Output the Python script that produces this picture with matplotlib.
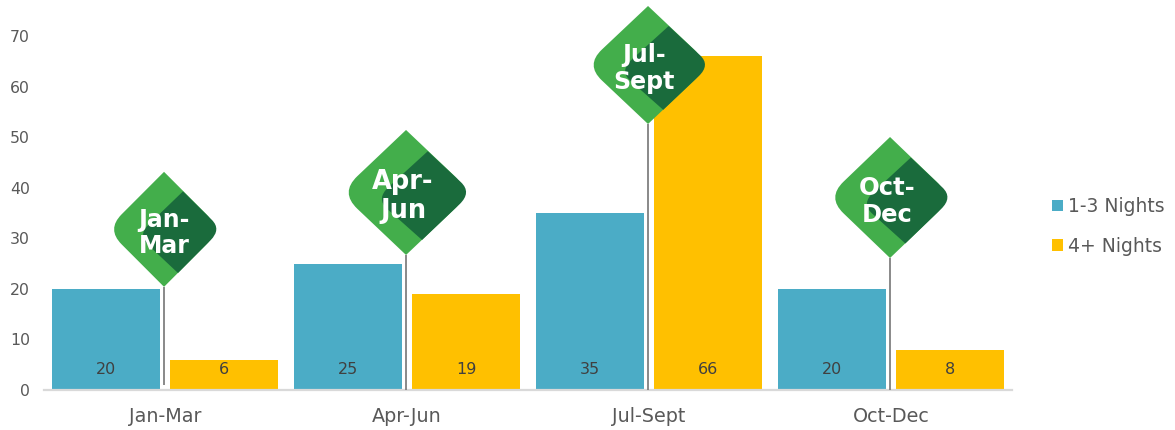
import matplotlib
matplotlib.use('Agg')
import matplotlib.pyplot as plt
from matplotlib.path import Path
from matplotlib.patches import PathPatch
from matplotlib.transforms import Affine2D
import numpy as np

categories = ['Jan-Mar', 'Apr-Jun', 'Jul-Sept', 'Oct-Dec']
short_nights = [20, 25, 35, 20]
long_nights = [6, 19, 66, 8]
series_names = ['1-3 Nights', '4+ Nights']
y_ticks = [0, 10, 20, 30, 40, 50, 60, 70]

# callout pins: value of the tip, size of the diamond in pixels
pin_labels = ['Jan-\nMar', 'Apr-\nJun', 'Jul-\nSept', 'Oct-\nDec']
pin_tips = [20.4, 26.7, 52.6, 26.1]
pin_base = [1, 0, 0, 0]
pin_heights = [115, 125, 118, 121]
pin_widths = [57.4, 65.9, 62.5, 63]
pin_fonts = [17, 18.5, 17, 17.5]
pin_shift = [0, -3, -4, -3]

BLUE = '#4BACC6'
YELLOW = '#FFC000'
GREEN = '#43AE4B'
DARK = '#1A6B3C'
GREY = '#595959'

plt.rcParams['font.family'] = 'DejaVu Sans'

fig = plt.figure(figsize=(11.75, 4.3), dpi=100)
ax = fig.add_axes([44 / 1175, 40 / 430, 968 / 1175, 389.4 / 430])

x = np.arange(len(categories))
b1 = ax.bar(x - 0.2438, short_nights, 0.446, color=BLUE, label=series_names[0])
b2 = ax.bar(x + 0.2438, long_nights, 0.446, color=YELLOW, label=series_names[1])

for bars in (b1, b2):
    for r in bars:
        ax.annotate(str(int(r.get_height())), (r.get_x() + r.get_width() / 2, 0),
                    xytext=(0, 21), textcoords='offset pixels', ha='center', va='center',
                    fontsize=11.5, color='#404040')

ax.set_xlim(-0.5, 3.5)
ax.set_ylim(0, 77)
ax.set_xticks(x)
ax.set_xticklabels(categories)
ax.set_yticks(y_ticks)
ax.tick_params(length=0, labelcolor=GREY)
ax.tick_params(axis='x', pad=12, labelsize=13.8)
ax.tick_params(axis='y', pad=10, labelsize=11.3)
for s in ('top', 'right', 'left'):
    ax.spines[s].set_visible(False)
ax.spines['bottom'].set_color('#D9D9D9')
ax.spines['bottom'].set_linewidth(1.6)
ax.patch.set_alpha(0)


def rounded_path(pts, t):
    # pts = bottom, left, top, right of the quad; left and right corners get rounded
    bottom, left, top, right = [np.array(p, dtype=float) for p in pts]
    verts = [bottom, left + (bottom - left) * t, left, left + (top - left) * t,
             top, right + (top - right) * t, right, right + (bottom - right) * t, bottom]
    codes = [Path.MOVETO, Path.LINETO, Path.CURVE3, Path.CURVE3,
             Path.LINETO, Path.LINETO, Path.CURVE3, Path.CURVE3, Path.CLOSEPOLY]
    return Path(verts, codes)


outer = rounded_path([(0, 0), (-1, .5), (0, 1), (1, .5)], 0.26)
inner = rounded_path([(.243, .12), (-.46, .45), (.33, .83), (1, .5)], 0.25)

for i in range(len(categories)):
    ax.plot([i - 0.004, i - 0.004], [pin_base[i], pin_tips[i]], color='#808080', lw=1.3,
            zorder=3, solid_capstyle='butt')
    px, py = ax.transData.transform((i - 0.004, pin_tips[i]))
    tr = Affine2D().scale(pin_widths[i], pin_heights[i]).translate(px, py)
    ax.add_patch(PathPatch(outer, transform=tr, fc=GREEN, ec='none', zorder=4, clip_on=False))
    ax.add_patch(PathPatch(inner, transform=tr, fc=DARK, ec='none', zorder=5, clip_on=False))
    ax.annotate(pin_labels[i], (i - 0.004, pin_tips[i]),
                xytext=(pin_shift[i], pin_heights[i] * 0.49 - 2.5), textcoords='offset pixels',
                ha='center', va='center', ma='center', color='white', fontweight='bold',
                fontsize=pin_fonts[i], linespacing=1.15, zorder=6)

ax.legend(loc='center left', bbox_to_anchor=(1008 / 968, 0.42), frameon=False,
          fontsize=13.5, labelcolor=GREY, handlelength=0.6, handleheight=0.6,
          handletextpad=0.27, labelspacing=1.1, borderpad=0, borderaxespad=0)

fig.savefig('out.png', dpi=100)
